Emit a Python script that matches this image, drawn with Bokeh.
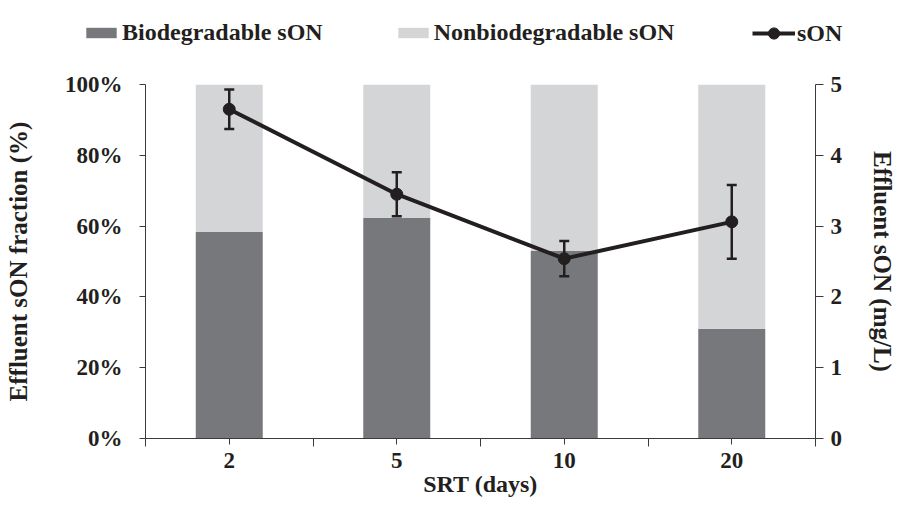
from bokeh.plotting import figure
from bokeh.layouts import column
from bokeh.models import (Range1d, LinearAxis, FixedTicker, NumeralTickFormatter,
                          Whisker, TeeHead, ColumnDataSource, Legend, LegendItem)
from bokeh.embed import file_html
from bokeh.resources import INLINE

# ---- data ----
srt = ["2", "5", "10", "20"]
bio_frac = [0.583, 0.623, 0.530, 0.310]
son = [4.65, 3.45, 2.54, 3.06]
son_err = [0.28, 0.31, 0.25, 0.52]
pct_ticks = [0, 0.2, 0.4, 0.6, 0.8, 1.0]
mg_ticks = [0, 1, 2, 3, 4, 5]
legend_labels = ["Biodegradable sON", "Nonbiodegradable sON", "sON"]

DARK = "#77787b"
LIGHT = "#d4d5d7"
INK = "#231f20"
FONT = "Liberation Serif"

x = [i + 0.5 for i in range(len(srt))]
nonbio = [1 - b for b in bio_frac]
src = ColumnDataSource(dict(
    x=x, bio=bio_frac, nonbio=nonbio, son=son,
    upper=[s + e for s, e in zip(son, son_err)],
    lower=[s - e for s, e in zip(son, son_err)],
))

W = 899
LEG_H = 60
p = figure(width=W, height=499 - LEG_H, output_backend="svg", toolbar_location=None,
           x_range=Range1d(0, len(srt)), y_range=Range1d(0, 1),
           min_border_left=145, min_border_right=80, min_border_top=24, min_border_bottom=61)
p.extra_y_ranges = {"son": Range1d(0, 5)}
p.xgrid.visible = False
p.ygrid.visible = False
p.outline_line_color = None
p.frame_align = False

bars = p.vbar_stack(["bio", "nonbio"], x="x", width=0.4, source=src,
                    color=[DARK, LIGHT], line_color=None)

ln = p.line("x", "son", source=src, y_range_name="son", line_width=4, line_color=INK)
pts = p.scatter("x", "son", source=src, y_range_name="son", size=12,
                fill_color=INK, line_color=INK)

wh = Whisker(source=src, base="x", upper="upper", lower="lower", y_range_name="son",
             line_color=INK, line_width=2.5, level="annotation",
             upper_head=TeeHead(size=10, line_color=INK, line_width=2.5),
             lower_head=TeeHead(size=10, line_color=INK, line_width=2.5))
p.add_layout(wh)

def style_axis(ax):
    ax.axis_line_color = "#3a3a3a"
    ax.axis_line_width = 1
    ax.major_tick_line_color = "#3a3a3a"
    ax.minor_tick_line_color = "#3a3a3a"
    ax.major_tick_in = 0
    ax.minor_tick_in = 0
    ax.major_label_text_font = FONT
    ax.major_label_text_font_style = "bold"
    ax.major_label_text_font_size = "23px"
    ax.major_label_text_color = INK
    ax.axis_label_text_font = FONT
    ax.axis_label_text_font_style = "bold"
    ax.axis_label_text_color = INK

# x axis
xa = p.xaxis[0]
style_axis(xa)
xa.ticker = FixedTicker(ticks=x, minor_ticks=list(range(len(srt) + 1)))
xa.major_label_overrides = {xi: s for xi, s in zip(x, srt)}
xa.minor_tick_out = 8
xa.major_tick_out = 6
xa.major_label_standoff = 6
xa.axis_label = "SRT (days)"
xa.axis_label_text_font_size = "24px"
xa.axis_label_standoff = 0

# left axis
ya = p.yaxis[0]
style_axis(ya)
ya.ticker = FixedTicker(ticks=pct_ticks)
ya.formatter = NumeralTickFormatter(format="0%")
ya.minor_tick_out = 0
ya.major_tick_out = 6
ya.major_label_standoff = 17
ya.axis_label = "Effluent sON fraction (%)"
ya.axis_label_text_font_size = "25px"
ya.axis_label_standoff = 30

# right axis
ra = LinearAxis(y_range_name="son", ticker=FixedTicker(ticks=mg_ticks))
style_axis(ra)
ra.minor_tick_out = 0
ra.major_tick_out = 8
ra.major_label_standoff = 7
ra.axis_label = "Effluent sON (mg/L)"
ra.axis_label_text_font_size = "25px"
ra.axis_label_standoff = 24
p.add_layout(ra, "right")

# ---- legend strip above the chart (proxy renderers kept out of view) ----
lf = figure(width=W, height=LEG_H, output_backend="svg", toolbar_location=None,
            x_range=Range1d(0, len(srt)), y_range=Range1d(10, 11), min_border=0)
lf.frame_align = False
lf.axis.visible = False
lf.grid.visible = False
lf.outline_line_color = None
lr1 = lf.vbar(x="x", top="bio", width=0.4, source=src, color=DARK, line_color=None)
lr2 = lf.vbar(x="x", top="nonbio", width=0.4, source=src, color=LIGHT, line_color=None)
lr3 = lf.line(x="x", y="son", source=src, line_width=4, line_color=INK)
lr4 = lf.scatter(x="x", y="son", source=src, size=12, fill_color=INK, line_color=INK)

common = dict(orientation="horizontal", label_standoff=2, spacing=71,
              padding=0, margin=0, border_line_color=None, background_fill_alpha=0,
              label_text_font=FONT, label_text_font_style="bold",
              label_text_font_size="24px", label_text_color=INK)

legend_bars = Legend(items=[
    LegendItem(label=legend_labels[0], renderers=[lr1]),
    LegendItem(label=legend_labels[1], renderers=[lr2]),
], location=(82, 14), glyph_width=38, glyph_height=13, **common)
lf.add_layout(legend_bars)

legend_line = Legend(items=[
    LegendItem(label=legend_labels[2], renderers=[lr3, lr4]),
], location=(752, 13), glyph_width=43, glyph_height=28, **common)
lf.add_layout(legend_line)

layout = column(lf, p, spacing=0)
open("out.html", "w").write(file_html(layout, INLINE))
